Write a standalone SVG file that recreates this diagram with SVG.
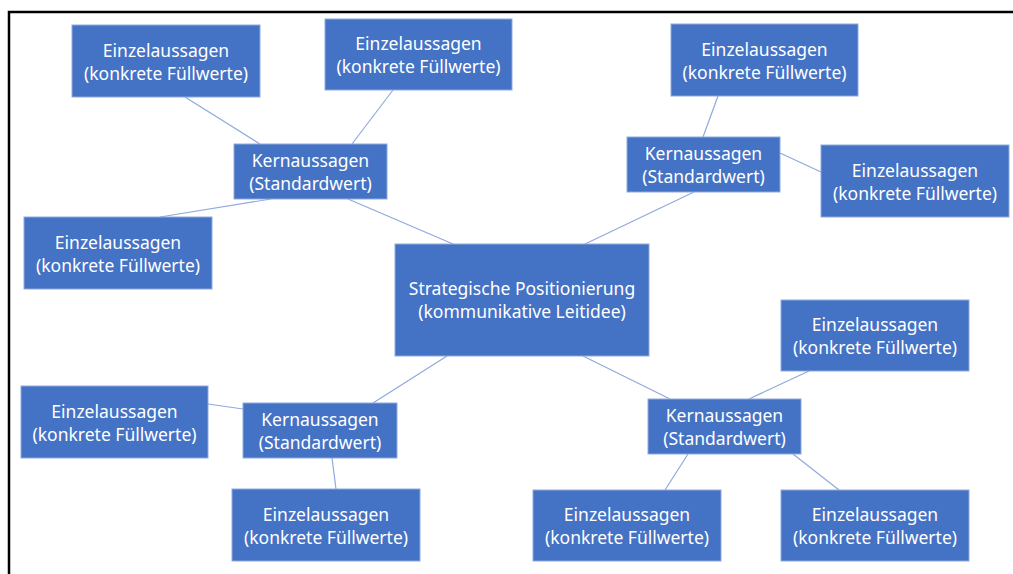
<svg xmlns="http://www.w3.org/2000/svg" width="1013" height="574" viewBox="0 0 1013 574">
<style>
.box{fill:#4472C4;stroke:#8FAADC;stroke-width:1}
.t{fill:#ffffff;font-family:"Noto Sans","Open Sans","Liberation Sans",sans-serif;font-size:17.5px;text-anchor:middle}
.c{stroke:#8FAADC;stroke-width:1.2;fill:none}
</style>
<rect x="0" y="0" width="1013" height="574" fill="#ffffff"/>
<path d="M9 574 V12 H1013" fill="none" stroke="#000000" stroke-width="2.5"/>
<g id="connectors">
<line class="c" x1="185" y1="97" x2="260" y2="144"/>
<line class="c" x1="393" y1="90" x2="352" y2="144"/>
<line class="c" x1="271" y1="199" x2="160" y2="217"/>
<line class="c" x1="348" y1="199" x2="453" y2="244"/>
<line class="c" x1="718" y1="96" x2="703" y2="137"/>
<line class="c" x1="780" y1="153" x2="821" y2="172"/>
<line class="c" x1="694" y1="192" x2="585" y2="244"/>
<line class="c" x1="447" y1="356" x2="373" y2="403"/>
<line class="c" x1="208" y1="404" x2="243" y2="409"/>
<line class="c" x1="332" y1="458" x2="336" y2="489"/>
<line class="c" x1="583" y1="356" x2="670" y2="399"/>
<line class="c" x1="749" y1="399" x2="809" y2="371"/>
<line class="c" x1="688" y1="454" x2="665" y2="490"/>
<line class="c" x1="793" y1="454" x2="839" y2="490"/>
</g>
<g id="center">
<rect class="box" x="395" y="244" width="254" height="112"/>
<text class="t" x="522" y="295">Strategische Positionierung</text>
<text class="t" x="522" y="318">(kommunikative Leitidee)</text>
</g>
<g id="kern-tl">
<rect class="box" x="234" y="144" width="153" height="55"/>
<text class="t" x="310.5" y="167">Kernaussagen</text>
<text class="t" x="310.5" y="190">(Standardwert)</text>
</g>
<g id="kern-tr">
<rect class="box" x="627" y="137" width="153" height="55"/>
<text class="t" x="703.5" y="160">Kernaussagen</text>
<text class="t" x="703.5" y="183">(Standardwert)</text>
</g>
<g id="kern-bl">
<rect class="box" x="243" y="403" width="154" height="55"/>
<text class="t" x="320" y="426">Kernaussagen</text>
<text class="t" x="320" y="449">(Standardwert)</text>
</g>
<g id="kern-br">
<rect class="box" x="648" y="399" width="153" height="55"/>
<text class="t" x="724.5" y="422">Kernaussagen</text>
<text class="t" x="724.5" y="445">(Standardwert)</text>
</g>
<g id="einzel-1">
<rect class="box" x="72" y="25" width="188" height="72"/>
<text class="t" x="166" y="57">Einzelaussagen</text>
<text class="t" x="166" y="80">(konkrete Füllwerte)</text>
</g>
<g id="einzel-2">
<rect class="box" x="325" y="19" width="187" height="71"/>
<text class="t" x="418.5" y="50">Einzelaussagen</text>
<text class="t" x="418.5" y="73">(konkrete Füllwerte)</text>
</g>
<g id="einzel-3">
<rect class="box" x="24" y="217" width="188" height="72"/>
<text class="t" x="118" y="249">Einzelaussagen</text>
<text class="t" x="118" y="272">(konkrete Füllwerte)</text>
</g>
<g id="einzel-4">
<rect class="box" x="671" y="24" width="187" height="72"/>
<text class="t" x="764.5" y="56">Einzelaussagen</text>
<text class="t" x="764.5" y="79">(konkrete Füllwerte)</text>
</g>
<g id="einzel-5">
<rect class="box" x="821" y="145" width="188" height="72"/>
<text class="t" x="915" y="177">Einzelaussagen</text>
<text class="t" x="915" y="200">(konkrete Füllwerte)</text>
</g>
<g id="einzel-6">
<rect class="box" x="21" y="386" width="187" height="72"/>
<text class="t" x="114.5" y="418">Einzelaussagen</text>
<text class="t" x="114.5" y="441">(konkrete Füllwerte)</text>
</g>
<g id="einzel-7">
<rect class="box" x="232" y="489" width="188" height="72"/>
<text class="t" x="326" y="521">Einzelaussagen</text>
<text class="t" x="326" y="544">(konkrete Füllwerte)</text>
</g>
<g id="einzel-8">
<rect class="box" x="781" y="300" width="188" height="71"/>
<text class="t" x="875" y="331">Einzelaussagen</text>
<text class="t" x="875" y="354">(konkrete Füllwerte)</text>
</g>
<g id="einzel-9">
<rect class="box" x="533" y="490" width="188" height="71"/>
<text class="t" x="627" y="521">Einzelaussagen</text>
<text class="t" x="627" y="544">(konkrete Füllwerte)</text>
</g>
<g id="einzel-10">
<rect class="box" x="781" y="490" width="188" height="71"/>
<text class="t" x="875" y="521">Einzelaussagen</text>
<text class="t" x="875" y="544">(konkrete Füllwerte)</text>
</g>
</svg>
